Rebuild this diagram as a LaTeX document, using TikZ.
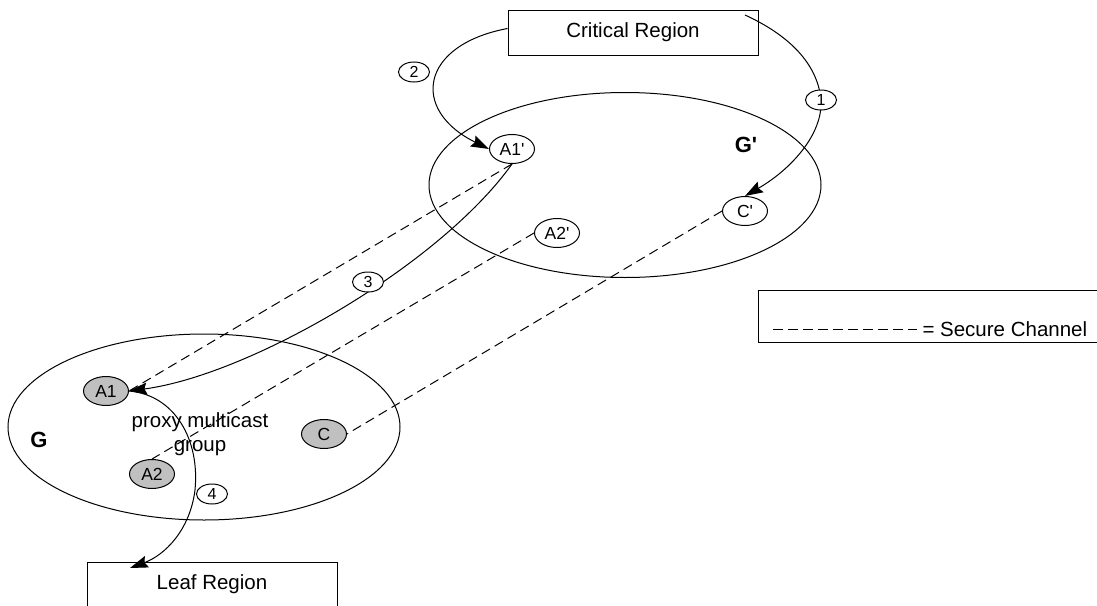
\documentclass[tikz,border=0pt]{standalone}
\usepackage{fontspec}
\setmainfont{Liberation Sans}
\usetikzlibrary{shapes.geometric,arrows.meta,calc}
\definecolor{proxygrey}{RGB}{192,192,192}

\begin{document}
\begin{tikzpicture}[x=1pt,y=-1pt,
  line width=1pt,
  group/.style={draw, ellipse, inner sep=0pt, minimum width=392pt, minimum height=185pt},
  member/.style={draw, ellipse, inner sep=0pt, minimum width=45pt, minimum height=29pt,
    font=\fontsize{17.5}{20}\selectfont},
  proxy/.style={member, fill=proxygrey},
  stepno/.style={draw, fill=white, ellipse, inner sep=0pt, minimum width=31pt,
    minimum height=20pt, font=\fontsize{16}{18}\selectfont},
  region/.style={draw, rectangle, inner sep=0pt, minimum width=250pt, minimum height=45pt,
    font=\fontsize{20.5}{24}\selectfont},
  grouplabel/.style={font=\bfseries\fontsize{22}{26}\selectfont},
  channel/.style={dash pattern=on 9.5pt off 5.5pt},
  msg/.style={-{Stealth[length=18pt,width=12pt,inset=2.5pt]}},
]
\useasboundingbox (0,0) rectangle (1097,605);
\clip (0,0) rectangle (1097,605);
\fill[white] (0,0) rectangle (1097,605);

% multicast groups
\node[group] (Gp) at (625,185) {};
\node[group, minimum height=186pt] (G) at (204,427) {};
\node[grouplabel] (Gplabel) at (746,145) {G\textquotesingle};
\node[grouplabel] (Glabel) at (39,440) {G};
\node[align=center, font=\fontsize{20.5}{24}\selectfont] (pmg) at (200,434) {proxy multicast\\group};

% regions and legend
\node[region] (crit) at (633,32.5) {Critical Region};
\node[region] (leaf) at (212,584.5) {Leaf Region};
\node[draw, rectangle, inner sep=0pt, minimum width=345pt, minimum height=52pt] (legend) at (930.5,316) {};
\coordinate (keyA) at (773,329);
\coordinate (keyB) at (917,329);
\draw[channel] (keyA) -- (keyB);
\node[anchor=west, inner sep=0pt, font=\fontsize{20.5}{24}\selectfont] (keytext) at (922,329) {= Secure Channel};

% members
\node[member] (A1p) at (512,149) {A1\textquotesingle};
\node[member] (A2p) at (557,233) {A2\textquotesingle};
\node[member] (Cp) at (745,211) {C\textquotesingle};
\node[proxy] (A1) at (106,391) {A1};
\node[proxy] (A2) at (152,474) {A2};
\node[proxy] (C) at (324,434) {C};

% secure channels
\draw[channel] (A1p.south) -- (A1.east);
\draw[channel] (A2p.west) -- (A2.north);
\draw[channel] (Cp.west) -- (C.east);

% message flow
\coordinate (critin) at (745,15);
\coordinate (via1) at (821,100);
\coordinate (leafin) at (130,568);
\draw[msg] (critin) .. controls (795,38) and (818,68) .. (via1)
  .. controls (823,135) and (790,170) .. (Cp.north);
\draw[msg] ($(crit.west)+(0,-4)$) .. controls (420,45) and (410,110) .. (A1p.west);
\draw[msg] (A1p.south) .. controls (440,265) and (250,375) .. (A1.east);
\draw[msg] (A1.east) .. controls (175,395) and (200,440) .. (195,490)
  .. controls (190,530) and (165,555) .. (leafin);

% step numbers
\node[stepno] (s1) at (via1) {1};
\node[stepno] (s2) at (414,72) {2};
\node[stepno] (s3) at (368,282) {3};
\node[stepno] (s4) at (212,494) {4};
\end{tikzpicture}
\end{document}
